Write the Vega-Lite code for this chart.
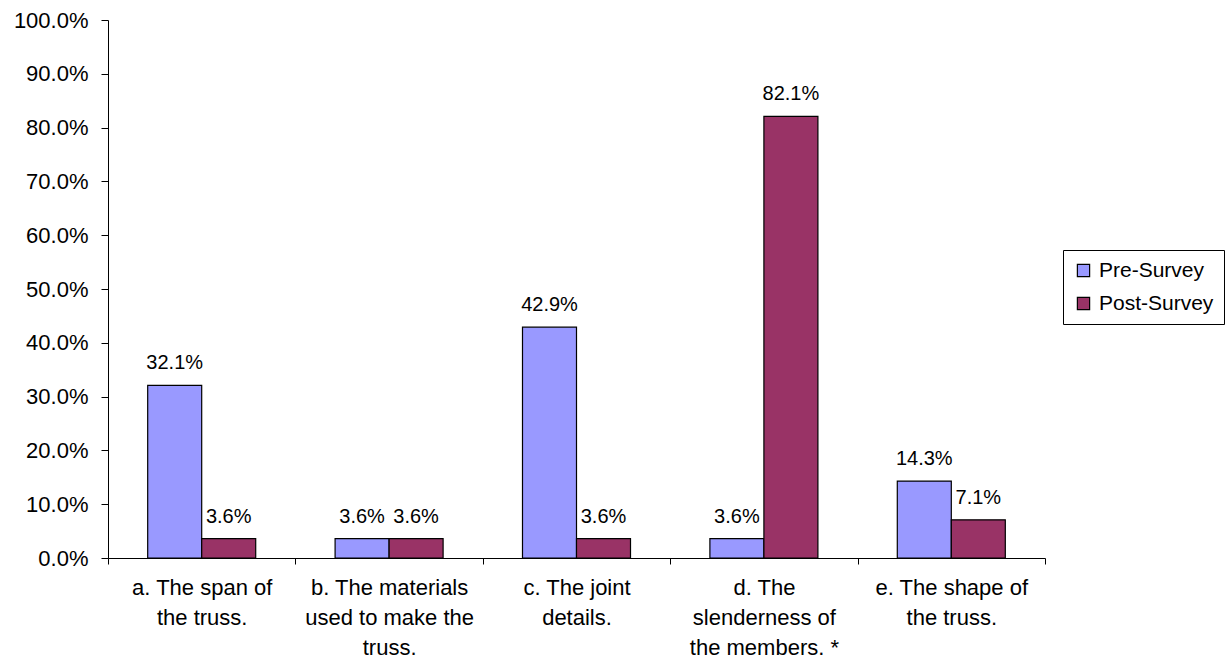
{
  "$schema": "https://vega.github.io/schema/vega-lite/v6.json",
  "autosize": {"type": "none"},
  "width": 937,
  "height": 538,
  "padding": {"left": 108, "top": 20, "right": 185, "bottom": 105},
  "background": "white",
  "config": {
    "font": "Liberation Sans",
    "view": {"stroke": null},
    "axis": {"grid": false, "domainColor": "black", "tickColor": "black", "labelColor": "black", "labelFont": "Liberation Sans", "labelFontSize": 22}
  },
  "data": {
    "values": [
      {"category": "a. The span of|the truss.", "series": "Pre-Survey", "value": 0.321},
      {"category": "a. The span of|the truss.", "series": "Post-Survey", "value": 0.036},
      {"category": "b. The materials|used to make the|truss.", "series": "Pre-Survey", "value": 0.036},
      {"category": "b. The materials|used to make the|truss.", "series": "Post-Survey", "value": 0.036},
      {"category": "c. The joint|details.", "series": "Pre-Survey", "value": 0.429},
      {"category": "c. The joint|details.", "series": "Post-Survey", "value": 0.036},
      {"category": "d. The|slenderness of|the members. *", "series": "Pre-Survey", "value": 0.036},
      {"category": "d. The|slenderness of|the members. *", "series": "Post-Survey", "value": 0.821},
      {"category": "e. The shape of|the truss.", "series": "Pre-Survey", "value": 0.143},
      {"category": "e. The shape of|the truss.", "series": "Post-Survey", "value": 0.071}
    ]
  },
  "encoding": {
    "x": {
      "field": "category", "type": "nominal", "sort": null,
      "scale": {"paddingInner": 0, "paddingOuter": 0},
      "axis": {"title": null, "labelAngle": 0, "tickBand": "extent", "tickSize": 6, "labelPadding": 13, "labelLineHeight": 30, "labelExpr": "split(datum.label, '|')", "labelLimit": 300}
    },
    "xOffset": {"field": "series", "type": "nominal", "sort": ["Pre-Survey", "Post-Survey"], "scale": {"paddingInner": 0, "paddingOuter": 0.735}},
    "y": {
      "field": "value", "type": "quantitative",
      "scale": {"domain": [0, 1], "nice": false},
      "axis": {"title": null, "format": ".1%", "values": [0, 0.1, 0.2, 0.3, 0.4, 0.5, 0.6, 0.7, 0.8, 0.9, 1.0], "tickSize": 7, "labelPadding": 13}
    }
  },
  "layer": [
    {
      "mark": {"type": "bar", "stroke": "black", "strokeWidth": 1.2},
      "encoding": {
        "color": {
          "field": "series", "type": "nominal", "sort": ["Pre-Survey", "Post-Survey"],
          "scale": {"domain": ["Pre-Survey", "Post-Survey"], "range": ["#9999FF", "#993366"]},
          "legend": {
            "title": null, "orient": "none", "legendX": 955, "legendY": 230,
            "symbolType": "square", "symbolSize": 150, "symbolStrokeColor": "black", "symbolStrokeWidth": 1.2,
            "labelFontSize": 21, "labelFont": "Liberation Sans", "labelColor": "black",
            "strokeColor": "black", "padding": 10, "rowPadding": 11, "labelOffset": 5
          }
        }
      }
    },
    {
      "mark": {"type": "text", "baseline": "bottom", "dy": -12, "fontSize": 20, "font": "Liberation Sans", "color": "black"},
      "encoding": {
        "text": {"field": "value", "type": "quantitative", "format": ".1%"}
      }
    }
  ]
}
